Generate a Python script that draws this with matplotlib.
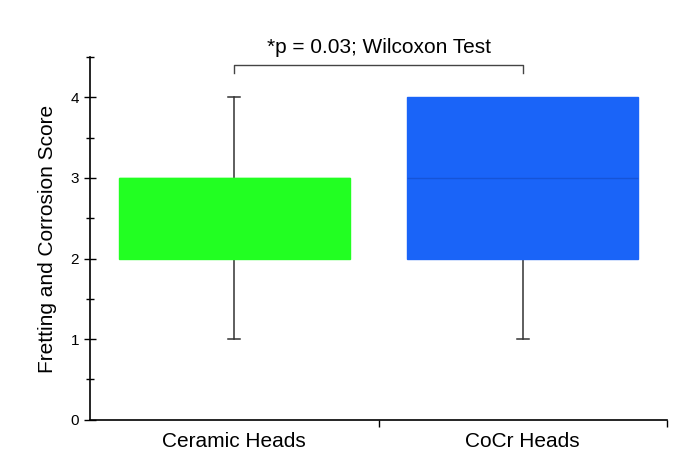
import matplotlib
matplotlib.use("Agg")
import matplotlib.pyplot as plt
from matplotlib.ticker import MultipleLocator

plt.rcParams['font.family'] = ['Liberation Sans', 'DejaVu Sans']

groups = ["Ceramic Heads", "CoCr Heads"]
whisker_low = [1, 1]
q1 = [2, 2]
median = [3, 3]
q3 = [3, 4]
whisker_high = [4, 4]
box_colors = ["#22ff22", "#1a64f8"]
median_colors = ["#22ff22", "#1554d8"]
p_text = "*p = 0.03; Wilcoxon Test"


def main():
    fig = plt.figure(figsize=(6.82, 4.68), dpi=100)
    ax = fig.add_axes([0.132, 0.103, 0.846, 0.775])

    positions = [0.5, 1.5]
    for i in range(len(groups)):
        stats = [dict(whislo=whisker_low[i], q1=q1[i], med=median[i], q3=q3[i], whishi=whisker_high[i])]
        parts = ax.bxp(stats, positions=[positions[i]], widths=0.8, patch_artist=True, showfliers=False,
                       boxprops=dict(facecolor=box_colors[i], edgecolor=box_colors[i], linewidth=1),
                       medianprops=dict(color=median_colors[i], linewidth=1),
                       whiskerprops=dict(color='#333333', linewidth=1.1),
                       capprops=dict(color='#333333', linewidth=1.1),
                       capwidths=0.04)
        # whiskers and caps sit behind the box, as in the original
        for line in parts['whiskers'] + parts['caps']:
            line.set_zorder(1)
        # a cap lying on the box edge is not drawn in the original
        if whisker_high[i] == q3[i]:
            parts['caps'][1].set_visible(False)
        if whisker_low[i] == q1[i]:
            parts['caps'][0].set_visible(False)
        for box in parts['boxes']:
            box.set_zorder(2)
        for med in parts['medians']:
            med.set_zorder(3)

    ax.set_xlim(0, 2)
    ax.set_ylim(0, 4.5)

    # category labels centered, ticks at the boundaries
    ax.set_xticks([1, 2])
    ax.set_xticklabels([])
    ax.set_xticks(positions, minor=True)
    ax.set_xticklabels(groups, minor=True, fontsize=15)
    ax.tick_params(axis='x', which='major', direction='out', length=5, width=1)
    ax.tick_params(axis='x', which='minor', length=0, pad=9)

    ax.yaxis.set_major_locator(MultipleLocator(1))
    ax.yaxis.set_minor_locator(MultipleLocator(0.5))
    ax.tick_params(axis='y', which='both', direction='inout', length=8, width=1, labelsize=11, pad=4)
    ax.tick_params(axis='y', which='minor', length=6)

    for side in ['top', 'right']:
        ax.spines[side].set_visible(False)
    ax.spines['left'].set_linewidth(1.2)
    ax.spines['bottom'].set_linewidth(1.2)

    ax.set_ylabel("Fretting and Corrosion Score", fontsize=15, labelpad=10)

    # significance bracket
    ax.plot([positions[0], positions[0], positions[1], positions[1]], [4.3, 4.4, 4.4, 4.3],
            color='#444444', linewidth=1, clip_on=False)
    ax.text(1.0, 4.5, p_text, ha='center', va='bottom', fontsize=15, clip_on=False)

    fig.savefig("out.png", dpi=100)


if __name__ == "__main__":
    main()
